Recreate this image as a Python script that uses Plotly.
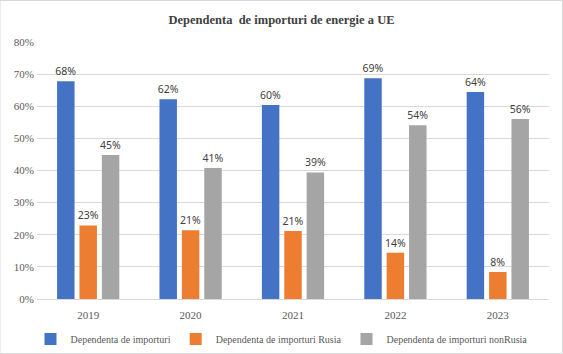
import plotly.graph_objects as go

years = ["2019", "2020", "2021", "2022", "2023"]
series_names = ["Dependenta de importuri", "Dependenta de importuri Rusia", "Dependenta de importuri nonRusia"]
dep_total = [67.8, 62.2, 60.4, 68.7, 64.4]
dep_rusia = [22.9, 21.4, 21.2, 14.4, 8.4]
dep_nonrusia = [44.8, 40.8, 39.4, 54.1, 56.0]
colors = ["#4472C4", "#ED7D31", "#A5A5A5"]
y_ticks = [0, 10, 20, 30, 40, 50, 60, 70, 80]
y_tick_labels = [f"{v}%" for v in y_ticks]

fig = go.Figure()
for name, vals, col in zip(series_names, [dep_total, dep_rusia, dep_nonrusia], colors):
    fig.add_trace(go.Bar(
        x=years, y=vals, name=name, marker_color=col, marker_line_width=0,
        texttemplate="%{y:.0f}%", textposition="outside", cliponaxis=False,
        constraintext="none",
        textfont=dict(family="Noto Sans", size=10.5, color="#404040"),
    ))

fig.update_layout(
    width=563, height=354,
    margin=dict(l=37, r=14, t=42, b=55, autoexpand=False),
    paper_bgcolor="white", plot_bgcolor="white",
    barmode="group", bargap=0.344, bargroupgap=0.22,
    title=dict(text="<b>Dependenta  de importuri de energie a UE</b>",
               x=0.5, xanchor="center", y=1 - 20 / 354, yanchor="middle",
               font=dict(family="Liberation Serif", size=12.5, color="#404040")),
    legend=dict(orientation="h", xref="container", yref="container",
                x=0.5, xanchor="center", y=1 - 339 / 354, yanchor="middle",
                bgcolor="rgba(0,0,0,0)",
                font=dict(family="Liberation Serif", size=10, color="#595959"),
                itemwidth=30, tracegroupgap=0, entrywidth=0),
    font=dict(family="Liberation Serif", size=11, color="#595959"),
    showlegend=True,
    shapes=[dict(type="rect", xref="paper", yref="paper", x0=-37/512, x1=1+13.5/512,
                 y0=-54.5/257, y1=1+41.5/257, line=dict(color="#D9D9D9", width=1),
                 layer="below")],
)
fig.update_yaxes(range=[0, 80], tickmode="array", tickvals=y_ticks, ticktext=y_tick_labels,
                 showgrid=True, gridcolor="#D9D9D9", gridwidth=1, zeroline=False, showline=False,
                 ticklabelstandoff=2,
                 tickfont=dict(family="Liberation Serif", size=11, color="#595959"))
fig.update_xaxes(showline=True, linecolor="#D9D9D9", linewidth=1, ticks="",
                 ticklabelstandoff=6,
                 tickfont=dict(family="Liberation Serif", size=11, color="#595959"))

fig.write_html("out.html")
